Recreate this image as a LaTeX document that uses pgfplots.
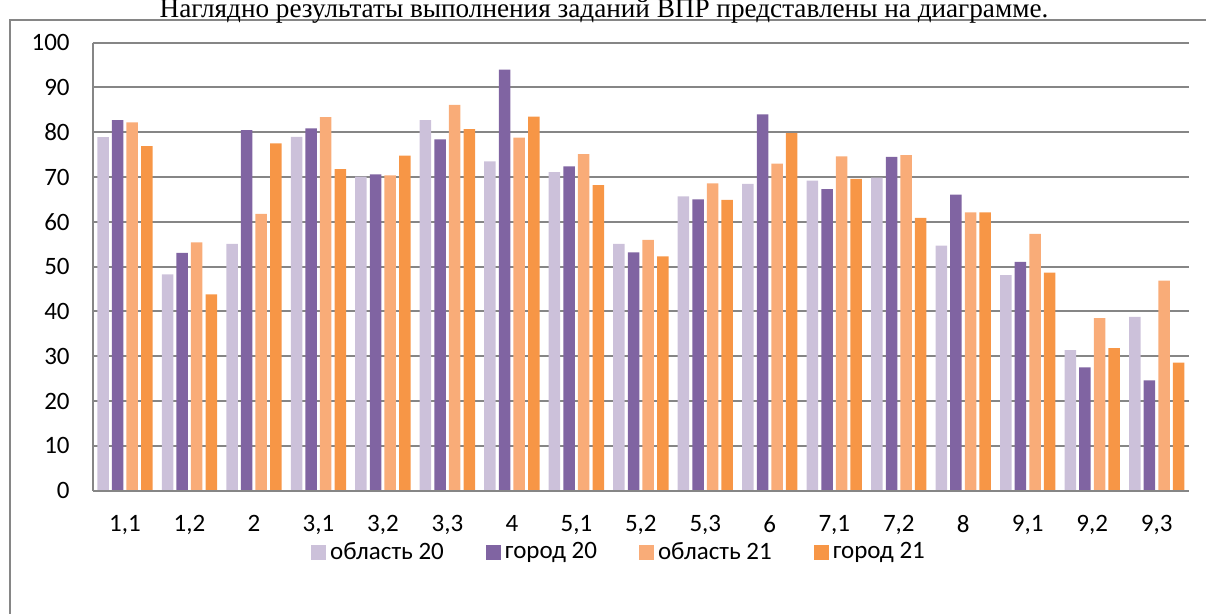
\documentclass[border=0pt]{standalone}
\usepackage{pgfplots}
\pgfplotsset{compat=1.18}
\usepackage{fontspec}
\setmainfont{Carlito}
\newfontfamily\titlefont{Liberation Serif}
\definecolor{c1}{HTML}{CCC1DA}
\definecolor{c2}{HTML}{8064A2}
\definecolor{c3}{HTML}{F9AC78}
\definecolor{c4}{HTML}{F79646}
\definecolor{gridc}{HTML}{868686}
\pgfplotstableread{
x a b c d
0 78.9 82.7 82.2 76.9
1 48.3 53.1 55.4 43.8
2 55.1 80.5 61.8 77.5
3 79.0 80.9 83.4 71.8
4 70.1 70.6 70.4 74.8
5 82.7 78.4 86.1 80.7
6 73.5 94.0 78.8 83.5
7 71.1 72.4 75.1 68.2
8 55.1 53.2 56.0 52.3
9 65.7 65.0 68.6 64.9
10 68.5 84.0 73.0 79.8
11 69.2 67.3 74.6 69.6
12 69.9 74.5 74.9 60.9
13 54.7 66.1 62.1 62.1
14 48.1 51.1 57.3 48.7
15 31.4 27.5 38.5 31.8
16 38.8 24.6 46.9 28.6
}\datatable
\begin{document}
\begin{tikzpicture}
\useasboundingbox (0,0) rectangle (603pt,307pt);
\clip (0,0) rectangle (603pt,307pt);
\draw[gridc, line width=0.8pt] (5pt,-5pt) -- (5pt,297pt) -- (610pt,297pt);
\node[font=\titlefont\fontsize{13.6}{16}\selectfont, anchor=base] at (302pt,298.3pt) {Наглядно результаты выполнения заданий ВПР представлены на диаграмме.};
\begin{axis}[
  at={(46.35pt,61.65pt)}, anchor=south west,
  scale only axis, width=548.15pt, height=224pt,
  ybar=1.55pt, bar width=5.75pt,
  xmin=-0.5, xmax=16.5, ymin=0, ymax=100,
  xtick={0,...,16},
  xticklabels={{1,1},{1,2},2,{3,1},{3,2},{3,3},4,{5,1},{5,2},{5,3},6,{7,1},{7,2},8,{9,1},{9,2},{9,3}},
  ytick={0,10,...,100},
  major tick length=0pt,
  axis lines*=left,
  axis line style={gridc, line width=1pt},
  ymajorgrids, grid style={gridc, line width=1pt},
  tick label style={font=\fontsize{12.5}{14}\selectfont, black},
  /pgf/number format/assume math mode=true,
  yticklabel style={xshift=-8pt},
  xticklabel style={yshift=-9pt},
  legend style={at={(0.481,-0.137)}, anchor=center, draw=none, legend columns=4,
    font=\fontsize{12.5}{14}\selectfont,
    /tikz/every even column/.append style={column sep=19pt}},
  legend image code/.code={\fill[#1] (0pt,-3.75pt) rectangle (7.5pt,3.75pt);},
]
\addplot[fill=c1, draw=none] table[x=x,y=a]{\datatable};
\addplot[fill=c2, draw=none] table[x=x,y=b]{\datatable};
\addplot[fill=c3, draw=none] table[x=x,y=c]{\datatable};
\addplot[fill=c4, draw=none] table[x=x,y=d]{\datatable};
\legend{область 20, город 20, область 21, город 21}
\draw[gridc, line width=1pt] (rel axis cs:0,0) -- (rel axis cs:1,0);
\end{axis}
\end{tikzpicture}
\end{document}
